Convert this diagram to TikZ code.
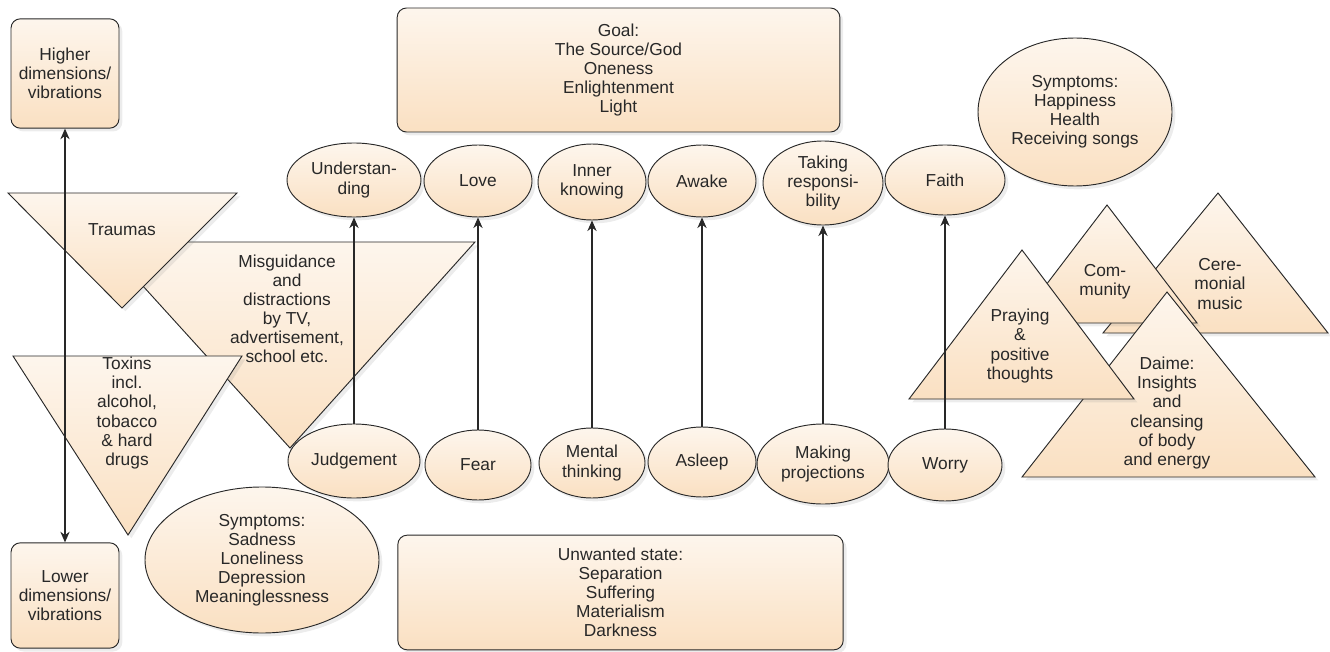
\documentclass[tikz,border=0pt]{standalone}
\usepackage{fontspec}
\setmainfont{Liberation Sans}
\usepackage{xcolor}
\usepackage{tikz}
\usetikzlibrary{positioning,shapes.geometric,shadows,arrows.meta}
\definecolor{peach}{RGB}{250,224,194}
\definecolor{ink}{RGB}{40,40,40}

\begin{document}
\begin{tikzpicture}[x=0.75pt, y=-0.75pt, font=\fontsize{13}{14.3}\selectfont, >={Stealth[length=8pt, width=7pt]}]
            \tikzstyle{peachy} = [draw=ink, line width=0.7pt, top color=peach!30!white, bottom color=peach, drop shadow={shadow xshift=2.5pt, shadow yshift=-2.5pt, opacity=0.15}]
            \tikzstyle{box} = [peachy, rounded corners=7pt, inner sep=3pt, align=center, text=ink]
            \tikzstyle{state} = [peachy, ellipse, inner sep=0pt, align=center, text=ink]
            \tikzstyle{tri} = [peachy, line join=miter]
            \tikzstyle{txt} = [inner sep=0pt, align=center, text=ink]
            \useasboundingbox (0,0) rectangle (1330,652);

            \node [box, minimum width=332pt, minimum height=93pt] (G) at (618.5,70) {Goal:\\The Source/God\\Oneness\\Enlightenment\\Light};
            \node [box, minimum width=334pt, minimum height=86pt] (W) at (620.5,592.5) {Unwanted state:\\Separation\\Suffering\\Materialism\\Darkness};
            \node [box, minimum width=81pt, minimum height=82pt] (H) at (65,73.5) {Higher\\dimensions/\\vibrations};
            \node [box, minimum width=81pt, minimum height=79pt] (L) at (65,595.5) {Lower\\dimensions/\\vibrations};

            \draw [tri] (103,242) -- (475,242) -- (290,448) -- cycle;
            \node [txt] (M) at (287,309) {Misguidance\\and\\distractions\\by TV,\\advertisement,\\school etc.};
            \draw [tri] (8,193) -- (237,193) -- (122,308) -- cycle;
            \node [txt] (Tr) at (122,230) {Traumas};
            \draw [tri] (13,356) -- (242,356) -- (128,535) -- cycle;
            \node [txt] (Tx) at (127,413) {Toxins\\incl.\\alcohol,\\tobacco\\\& hard\\drugs};

            \node [state, minimum width=175.5pt, minimum height=109.5pt] (S0) at (262,560) {Symptoms:\\Sadness\\Loneliness\\Depression\\Meaninglessness};

            \node [state, minimum width=100.5pt, minimum height=55.5pt] (T0) at (354,180) {Understan-\\ding};
            \node [state, minimum width=81pt, minimum height=54pt] (T1) at (478,181) {Love};
            \node [state, minimum width=81pt, minimum height=57pt] (T2) at (592,182) {Inner\\knowing};
            \node [state, minimum width=81pt, minimum height=54pt] (T3) at (702,181) {Awake};
            \node [state, minimum width=90pt, minimum height=63pt] (T4) at (823,183) {Taking\\responsi-\\bility};
            \node [state, minimum width=90pt, minimum height=52.5pt] (T5) at (945,180) {Faith};

            \node [state, minimum width=99pt, minimum height=55.5pt] (B0) at (354,461) {Judgement};
            \node [state, minimum width=79.5pt, minimum height=52.5pt] (B1) at (478,465) {Fear};
            \node [state, minimum width=79.5pt, minimum height=52.5pt] (B2) at (592,463) {Mental\\thinking};
            \node [state, minimum width=81pt, minimum height=52.5pt] (B3) at (702,462) {Asleep};
            \node [state, minimum width=99pt, minimum height=60pt] (B4) at (823,464) {Making\\projections};
            \node [state, minimum width=85.5pt, minimum height=54pt] (B5) at (945,465) {Worry};

            \node [state, minimum width=145.5pt, minimum height=111pt] (S1) at (1075,112) {Symptoms:\\Happiness\\Health\\Receiving songs};

            \draw [tri] (1218,193) -- (1328,333) -- (1103,333) -- cycle;
            \node [txt] (C1) at (1220,284) {Cere-\\monial\\music};
            \draw [tri] (1107,205) -- (1197,323) -- (1017,323) -- cycle;
            \node [txt] (C2) at (1105,282) {Com-\\munity};
            \draw [tri] (1167,292) -- (1315,477) -- (1022,477) -- cycle;
            \node [txt] (C3) at (1167,413) {Daime:\\Insights\\and\\cleansing\\of body\\and energy};
            \draw [tri] (1022,250) -- (1134,399) -- (909,399) -- cycle;
            \node [txt] (C4) at (1020,346) {Praying\\\&\\positive\\thoughts};

            \foreach \i in {0,...,5}
                \draw [->, line width=0.9pt, ink] (B\i) to (T\i);
            \draw [<->, line width=0.9pt, ink] (H) to (L);
        \end{tikzpicture}
\end{document}
